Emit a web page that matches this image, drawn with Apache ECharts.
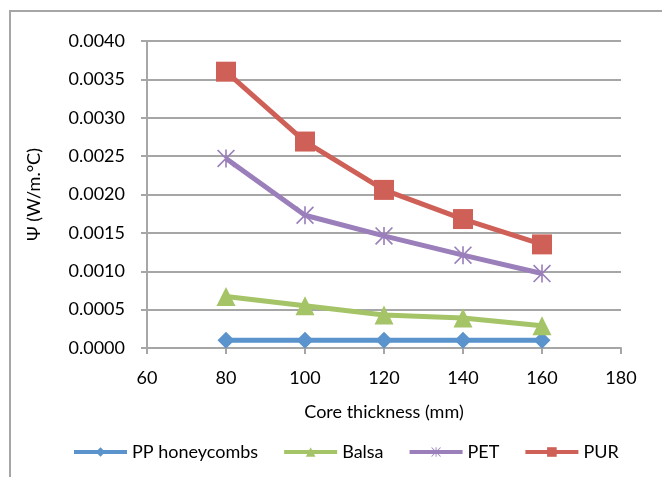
<!DOCTYPE html>
<html>
<head>
<meta charset="utf-8">
<script src="https://cdn.jsdelivr.net/npm/echarts@6/dist/echarts.min.js"></script>
<style>
  html, body { margin: 0; padding: 0; background: #fff; }
  #chart { width: 662px; height: 477px; }
</style>
</head>
<body>
<div id="chart"></div>
<script>
// Core thickness (mm) for each measurement
const thickness = [80, 100, 120, 140, 160];

// Linear thermal transmittance Ψ (W/m.°C) per core material
const ppHoneycombs = [0.0001, 0.0001, 0.0001, 0.0001, 0.0001];
const balsa = [0.00067, 0.00055, 0.00043, 0.00039, 0.00029];
const pet = [0.00247, 0.00173, 0.00146, 0.00121, 0.00097];
const pur = [0.00360, 0.00269, 0.00206, 0.00168, 0.00135];

const seriesNames = ['PP honeycombs', 'Balsa', 'PET', 'PUR'];

const FONT = 'Lato';
const GRID = '#a6a6a6';

// Asterisk marker built from three thin bars
const asterisk = 'path://M9.1,0 L10.9,0 L10.9,20 L9.1,20 Z ' +
  'M0,1.3 L1.3,0 L20,18.7 L18.7,20 Z ' +
  'M18.7,0 L20,1.3 L1.3,20 L0,18.7 Z';

function pairs(vals) {
  return thickness.map((t, i) => [t, vals[i]]);
}

function lineSeries(name, vals, color, symbol, size) {
  return {
    name: name,
    type: 'line',
    data: pairs(vals),
    symbol: symbol,
    symbolSize: size,
    showAllSymbol: true,
    lineStyle: { color: color, width: 5 },
    itemStyle: { color: color },
    emphasis: { disabled: true },
    animation: false
  };
}

const chart = echarts.init(document.getElementById('chart'));
chart.setOption({
  backgroundColor: '#fff',
  animation: false,
  graphic: [{
    type: 'rect',
    shape: { x: 10, y: 11, width: 700, height: 520 },
    style: { fill: 'none', stroke: GRID, lineWidth: 2 },
    silent: true
  }],
  grid: { left: 147, right: 41, top: 41, bottom: 129 },
  legend: {
    data: seriesNames,
    top: 438,
    left: 67,
    itemWidth: 53,
    itemHeight: 12,
    itemGap: 24,
    lineStyle: { width: 4 },
    textStyle: { fontFamily: FONT, fontSize: 18, color: '#000' }
  },
  xAxis: {
    type: 'value',
    min: 60,
    max: 180,
    interval: 20,
    name: 'Core thickness (mm)',
    nameLocation: 'middle',
    nameGap: 55,
    nameTextStyle: { fontFamily: FONT, fontSize: 18, color: '#000' },
    axisLine: { lineStyle: { color: GRID, width: 2 } },
    axisTick: { show: true, length: 6, lineStyle: { color: GRID, width: 2 } },
    axisLabel: { fontFamily: FONT, fontSize: 18, color: '#000', margin: 21 },
    splitLine: { show: false }
  },
  yAxis: {
    type: 'value',
    min: 0,
    max: 0.004,
    interval: 0.0005,
    name: 'Ψ (W/m.°C)',
    nameLocation: 'middle',
    nameRotate: 90,
    nameGap: 104,
    nameTextStyle: { fontFamily: FONT, fontSize: 18, color: '#000' },
    axisLine: { show: true, lineStyle: { color: GRID, width: 2 } },
    axisTick: { show: true, length: 6, lineStyle: { color: GRID, width: 2 } },
    axisLabel: {
      fontFamily: FONT, fontSize: 18, color: '#000', margin: 22,
      formatter: v => v.toFixed(4)
    },
    splitLine: { show: true, lineStyle: { color: GRID, width: 2 } }
  },
  series: [
    lineSeries('PP honeycombs', ppHoneycombs, '#5b93cd', 'diamond', 17),
    lineSeries('Balsa', balsa, '#a4c467', 'triangle', 19),
    lineSeries('PET', pet, '#9a7fba', asterisk, 18),
    lineSeries('PUR', pur, '#cf6058', 'rect', 20)
  ]
});
</script>
</body>
</html>
